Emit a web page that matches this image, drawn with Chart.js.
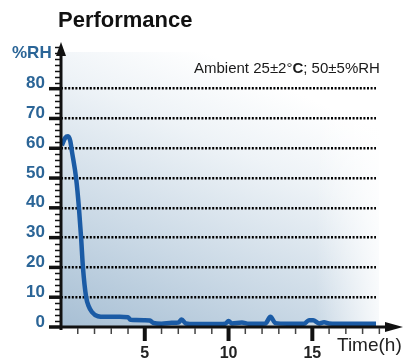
<!DOCTYPE html>
<html>
<head>
<meta charset="utf-8">
<script src="https://cdn.jsdelivr.net/npm/chart.js@4"></script>
<style>
  body { margin: 0; background: #fff; }
  #wrap { width: 411px; height: 364px; }
</style>
</head>
<body>
<div id="wrap"><canvas id="myChart"></canvas></div>
<script>
// values
const timeH = [0.05, 0.25, 0.42, 0.55, 0.65, 0.9, 1.07, 1.2, 1.31, 1.5, 1.65, 1.85, 2.2, 2.6, 3.5, 4.0, 4.15, 5.0, 5.3, 5.5, 6.0, 6.6, 7.0, 7.2, 7.45, 8.0, 9.0, 9.8, 10.0, 10.2, 10.8, 11.2, 12.2, 12.5, 12.8, 13.5, 14.5, 14.8, 15.05, 15.4, 15.7, 16.0, 17.0, 18.0, 18.8];
const rhValues = [61, 63.5, 64, 62.5, 59, 50, 40, 30, 20, 10, 7, 5, 3.6, 3.4, 3.4, 3.3, 2.4, 2.3, 2.2, 1.4, 1.1, 1.4, 1.5, 2.5, 1.2, 1.0, 1.0, 1.1, 2.0, 1.2, 1.5, 1.1, 1.2, 3.4, 1.3, 1.1, 1.1, 2.3, 2.3, 1.2, 1.6, 1.2, 1.1, 1.1, 1.1];
const yTicks = [0, 10, 20, 30, 40, 50, 60, 70, 80];
const xTicks = [5, 10, 15];
const titleText = 'Performance';
const noteText = ['Ambient 25±2°', 'C', '; 50±5%RH'];
const yTitle = '%RH';
const xTitle = 'Time(h)';

const labelBlue = '#2b6597';
const lineBlue = '#1b5ba5';
const fontFam = '"Liberation Sans", Arial, sans-serif';

const decorPlugin = {
    id: 'decor',
    beforeDraw(chart) {
        const { ctx, chartArea: a } = chart;
        // plot background gradient, dark bottom-left fading to white
        const w = a.right - a.left;
        const g = ctx.createLinearGradient(a.left, a.bottom, a.left + w * 0.4, a.top);
        g.addColorStop(0, '#a7bfd4');
        g.addColorStop(0.35, '#c9d8e5');
        g.addColorStop(0.75, '#eef3f7');
        g.addColorStop(1, '#ffffff');
        ctx.save();
        ctx.fillStyle = g;
        ctx.fillRect(a.left, a.top + 8, w + 3, a.bottom - a.top - 8);
        // fade to white at the right end
        const r = ctx.createLinearGradient(a.right - 60, 0, a.right + 4, 0);
        r.addColorStop(0, 'rgba(255,255,255,0)');
        r.addColorStop(1, 'rgba(255,255,255,0.85)');
        ctx.fillStyle = r;
        ctx.fillRect(a.right - 60, a.top + 8, 64, a.bottom - a.top - 8);
        ctx.restore();
    },
    afterDraw(chart) {
        const { ctx } = chart;
        const xs = chart.scales.x, ys = chart.scales.y;
        const x0 = xs.getPixelForValue(0);
        const y0 = ys.getPixelForValue(0);
        ctx.save();
        ctx.fillStyle = '#111';
        ctx.strokeStyle = '#111';

        // y axis line + arrow
        ctx.lineWidth = 3;
        ctx.beginPath();
        ctx.moveTo(x0, y0 + 3);
        ctx.lineTo(x0, 52);
        ctx.stroke();
        ctx.beginPath();
        ctx.moveTo(x0, 42);
        ctx.lineTo(x0 - 5, 56);
        ctx.lineTo(x0 + 5, 56);
        ctx.closePath();
        ctx.fill();

        // y minor ticks
        ctx.lineWidth = 1.5;
        for (let v = 2; v <= 94; v += 2) {
            if (v % 10 === 0 && v <= 80) continue;
            const y = Math.round(ys.getPixelForValue(v)) + 0.5;
            ctx.beginPath();
            ctx.moveTo(x0 - 6, y);
            ctx.lineTo(x0, y);
            ctx.stroke();
        }
        // y major ticks
        ctx.lineWidth = 3.5;
        yTicks.forEach(v => {
            const y = ys.getPixelForValue(v);
            ctx.beginPath();
            ctx.moveTo(x0 - 12, y);
            ctx.lineTo(x0, y);
            ctx.stroke();
        });

        // x axis line + arrow
        ctx.lineWidth = 3;
        ctx.beginPath();
        ctx.moveTo(x0, y0);
        ctx.lineTo(390, y0);
        ctx.stroke();
        ctx.beginPath();
        ctx.moveTo(403, y0);
        ctx.lineTo(385, y0 - 5);
        ctx.lineTo(385, y0 + 5);
        ctx.closePath();
        ctx.fill();

        // x ticks
        for (let h = 1; h <= 19; h++) {
            const x = xs.getPixelForValue(h);
            if (h % 5 === 0) {
                ctx.lineWidth = 4;
                ctx.strokeStyle = '#111';
                ctx.beginPath();
                ctx.moveTo(x, y0);
                ctx.lineTo(x, y0 + 14);
                ctx.stroke();
            } else {
                ctx.lineWidth = 1.5;
                ctx.strokeStyle = '#444';
                ctx.beginPath();
                ctx.moveTo(x, y0 + 1);
                ctx.lineTo(x, y0 + 7);
                ctx.stroke();
            }
        }

        // texts
        ctx.textBaseline = 'alphabetic';
        ctx.fillStyle = '#111';
        ctx.font = 'bold 22px ' + fontFam;
        ctx.textAlign = 'left';
        ctx.fillText(titleText, 58, 27);

        ctx.fillStyle = labelBlue;
        ctx.font = 'bold 17px ' + fontFam;
        ctx.fillText(yTitle, 12, 58);

        ctx.fillStyle = '#222';
        ctx.font = '19px ' + fontFam;
        ctx.fillText(xTitle, 337, 351);

        // ambient note, "C" in bold
        let nx = 194;
        const ny = 73;
        ctx.fillStyle = '#1a1a1a';
        noteText.forEach((part, i) => {
            ctx.font = (i === 1 ? 'bold ' : '') + '15px ' + fontFam;
            ctx.fillText(part, nx, ny);
            nx += ctx.measureText(part).width;
        });
        ctx.restore();
    }
};

const ctx = document.getElementById('myChart').getContext('2d');
const chart = new Chart(ctx, {
    type: 'line',
    data: {
        datasets: [{
            data: timeH.map((t, i) => ({ x: t, y: rhValues[i] })),
            borderColor: lineBlue,
            borderWidth: 4.5,
            pointRadius: 0,
            cubicInterpolationMode: 'monotone',
            fill: false,
            clip: false
        }]
    },
    options: {
        responsive: true,
        maintainAspectRatio: false,
        animation: false,
        events: [],
        layout: { padding: { left: 0, right: 35, top: 44, bottom: 0 } },
        plugins: { legend: { display: false }, tooltip: { enabled: false } },
        scales: {
            x: {
                type: 'linear',
                min: 0,
                max: 18.8,
                afterBuildTicks: s => { s.ticks = xTicks.map(v => ({ value: v })); },
                afterFit: s => { s.height = 37; },
                grid: { display: false, drawTicks: false },
                border: { display: false },
                ticks: {
                    padding: 17,
                    color: '#222',
                    font: { family: fontFam, size: 16, weight: 'bold' }
                }
            },
            y: {
                min: 0,
                max: 95,
                afterBuildTicks: s => { s.ticks = yTicks.map(v => ({ value: v })); },
                afterFit: s => { s.width = 61; },
                grid: {
                    drawTicks: false,
                    lineWidth: 2.5,
                    color: c => (c.tick && c.tick.value === 0 ? 'rgba(0,0,0,0)' : '#000')
                },
                border: { display: false, dash: [2, 1.6] },
                ticks: {
                    padding: 16,
                    color: labelBlue,
                    font: { family: fontFam, size: 17, weight: 'bold', lineHeight: 0.6 },
                    callback: v => [String(v), '']
                }
            }
        }
    },
    plugins: [decorPlugin]
});
</script>
</body>
</html>
